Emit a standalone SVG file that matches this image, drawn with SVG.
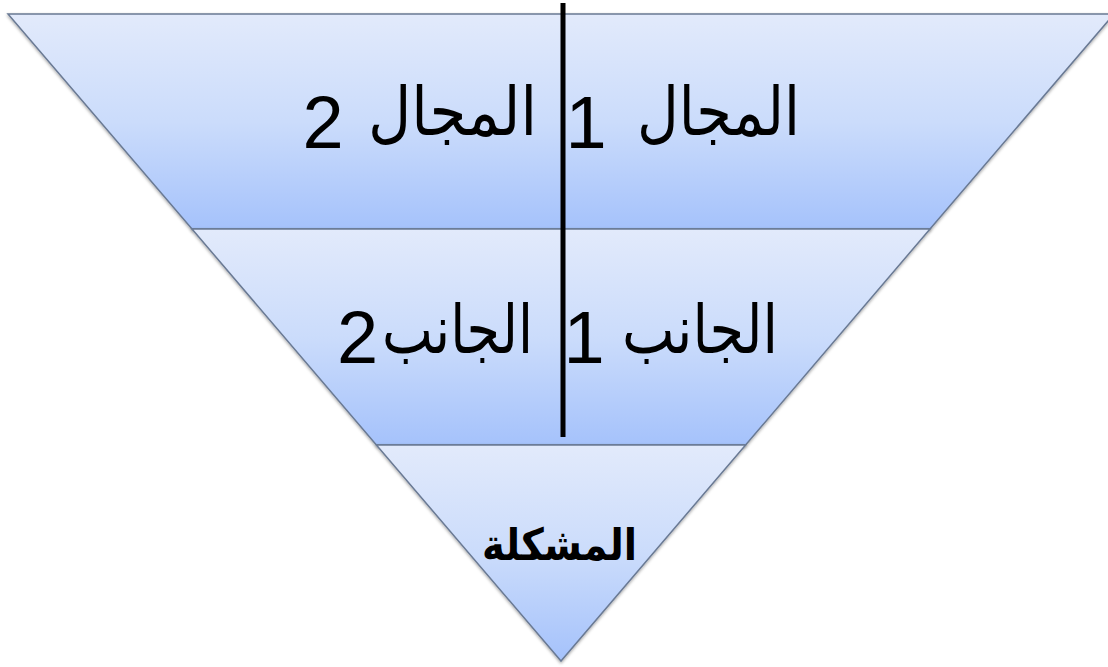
<svg xmlns="http://www.w3.org/2000/svg" width="1108" height="667" viewBox="0 0 1108 667">
<style>
.band{stroke:#6a7a94;stroke-width:1.5;filter:url(#sh)}
.t{font-family:"Liberation Sans","DejaVu Sans",Arial,sans-serif;fill:#000;text-anchor:middle;direction:rtl;unicode-bidi:embed}
.ar{font-size:67px}
.num{font-family:"Liberation Sans",Arial,Helvetica,sans-serif;font-size:74px;fill:#000;text-anchor:middle}
.bold{font-size:44px;font-weight:bold}
</style>
<defs>
<linearGradient id="g" x1="0" y1="0" x2="0" y2="1">
<stop offset="0" stop-color="#e2eafb"/>
<stop offset="0.5" stop-color="#cbdcfb"/>
<stop offset="1" stop-color="#a5c2fb"/>
</linearGradient>
<filter id="sh" x="-5%" y="-5%" width="110%" height="115%">
<feDropShadow dx="0" dy="1.5" stdDeviation="1.5" flood-color="#000" flood-opacity="0.35"/>
</filter>
</defs>
<g id="band-top"><polygon class="band" fill="url(#g)" points="8,14 1114,14 930,229 192,229"/></g>
<g id="band-middle"><polygon class="band" fill="url(#g)" points="192,229 930,229 745.6,445 376.4,445"/></g>
<g id="band-bottom"><polygon class="band" fill="url(#g)" points="376.4,445 745.6,445 561,661"/></g>
<g id="connectors"><line x1="563" y1="3" x2="563" y2="437" stroke="#000" stroke-width="5"/></g>
<g id="labels">
<text class="t ar" x="718.5" y="135" textLength="163" lengthAdjust="spacingAndGlyphs">المجال</text>
<text class="num" x="586" y="148">1</text>
<text class="t ar" x="452.5" y="135" textLength="169" lengthAdjust="spacingAndGlyphs">المجال</text>
<text class="num" x="323" y="148">2</text>
<text class="t ar" x="700" y="353" textLength="156" lengthAdjust="spacingAndGlyphs">الجانب</text>
<text class="num" x="584" y="363">1</text>
<text class="t ar" x="457.5" y="353" textLength="151" lengthAdjust="spacingAndGlyphs">الجانب</text>
<text class="num" x="357.5" y="363">2</text>
<text class="t bold" x="559.5" y="560" textLength="155" lengthAdjust="spacingAndGlyphs">المشكلة</text>
</g>
</svg>
